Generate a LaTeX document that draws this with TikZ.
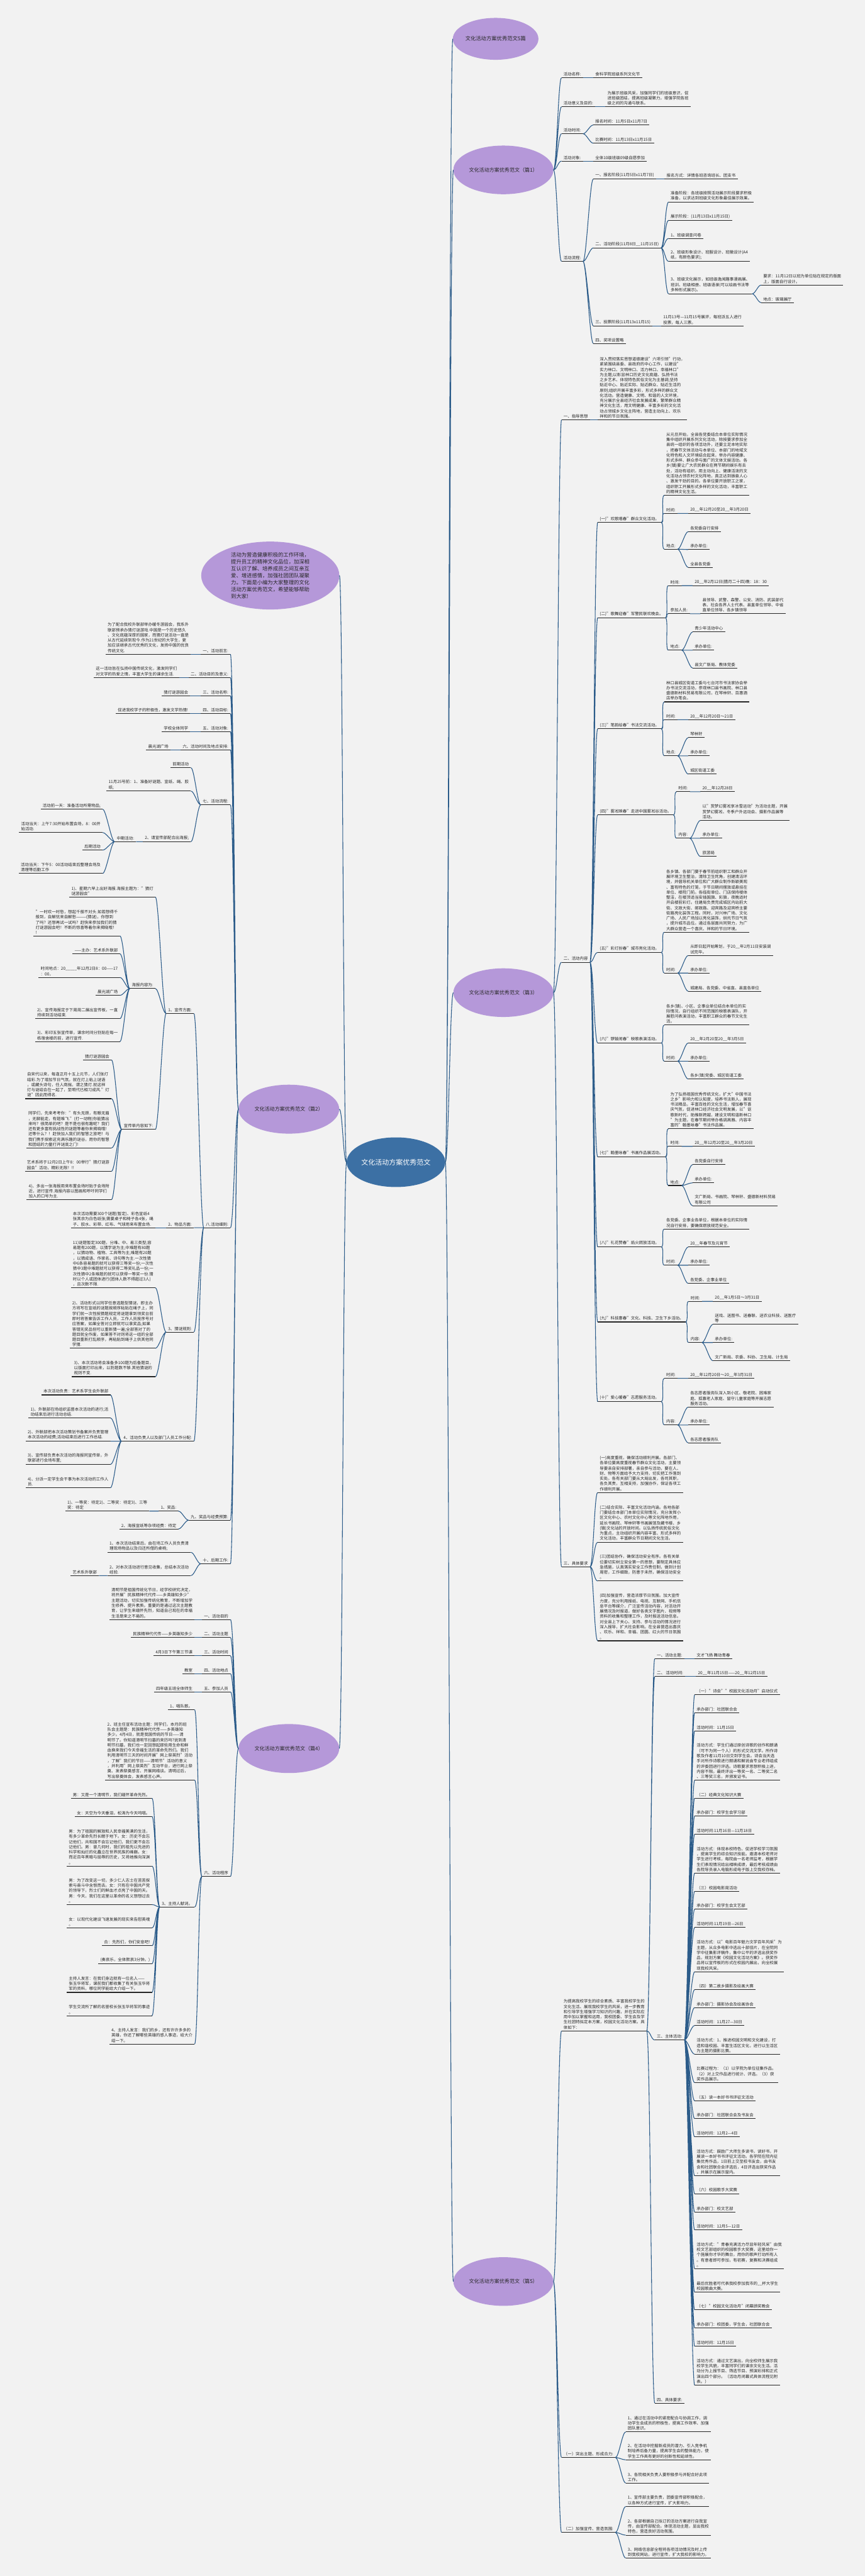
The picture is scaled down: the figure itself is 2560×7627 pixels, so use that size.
\documentclass[tikz,border=0pt]{standalone}
\usepackage{fontspec}
\setmainfont{Noto Sans CJK SC}
\usetikzlibrary{shapes.geometric}

\definecolor{bgc}{RGB}{242,242,242}
\definecolor{lav}{RGB}{181,152,217}
\definecolor{coreblue}{RGB}{60,112,164}
\definecolor{linkc}{RGB}{44,92,138}
\definecolor{inkc}{RGB}{38,38,38}

\begin{document}
\begin{tikzpicture}[
    x=1pt, y=-1pt,
    every node/.style={text=inkc},
    core/.style={ellipse, fill=coreblue, text=white, minimum width=292pt, minimum height=147pt, inner sep=0pt, font=\fontsize{20.5}{24}\selectfont},
    topic/.style={ellipse, fill=lav, minimum width=296pt, minimum height=144pt, inner sep=0pt, align=left, font=\fontsize{15}{20.5}\selectfont},
    underl/.style={draw=inkc, line width=2pt},
    item/.style={align=left, inner xsep=6pt, inner ysep=4.5pt, font=\fontsize{12}{15.4}\selectfont,
        append after command={(\tikzlastnode.south west) edge[underl] (\tikzlastnode.south east)}},
    rn/.style={item, anchor=south west},
    ln/.style={item, anchor=south east},
    link/.style={draw=linkc, line width=2pt},
    rlink/.style={link, to path={.. controls +(10,0) and +(-10,0) .. (\tikztotarget)}},
    llink/.style={link, to path={.. controls +(-10,0) and +(10,0) .. (\tikztotarget)}}
]

\fill[bgc] (0,0) rectangle (2560,7627);
\useasboundingbox (0,0) rectangle (2560,7627);

% ============ CENTRE ============
\node[core] (core) at (1172,3441) {文化活动方案优秀范文};

% ============ TOPICS ============
\node[topic, minimum width=251pt, minimum height=124pt, font=\fontsize{15.5}{20}\selectfont] (tA) at (1467,115) {文化活动方案优秀范文5篇};
\node[topic] (t1) at (1490,503) {文化活动方案优秀范文（篇1）};
\node[topic] (t3) at (1490,2939) {文化活动方案优秀范文（篇3）};
\node[topic] (t5) at (1490,6755) {文化活动方案优秀范文（篇5）};
\node[topic, minimum width=409pt, minimum height=201pt, font=\fontsize{15.5}{20.5}\selectfont] (tI) at (800,1704) {活动为营造健康积极的工作环境，\\提升员工的精神文化品位，加深相\\互认识了解、培养成员之间互亲互\\爱、增进感情，加强社团团队凝聚\\力。下面是小编为大家整理的文化\\活动方案优秀范文，希望能够帮助\\到大家!};
\node[topic, minimum width=298pt, minimum height=145pt] (t2) at (855,3284) {文化活动方案优秀范文（篇2）};
\node[topic, minimum width=298pt, minimum height=145pt] (t4) at (855,5177) {文化活动方案优秀范文（篇4）};

\draw[rlink] (core.east) to (tA.west) (core.east) to (t1.west) (core.east) to (t3.west) (core.east) to (t5.west);
\draw[llink] (core.west) to (tI.east) (core.west) to (t2.east) (core.west) to (t4.east);

% ============ PIAN 1 ============
\node[rn] (a1) at (1662,230) {活动名称:};
\node[rn] (a1x) at (1756,230) {食科学院班级系列文化节};
\node[rn] (a2) at (1662,316) {活动意义及目的:};
\node[rn] (a2x) at (1792,316) {为展示班级风采，加强同学们的班级意识，促\\进班级团结，提高班级凝聚力，增强学院各班\\级之间的沟通与联系。};
\node[rn] (a3) at (1662,396) {活动时间:};
\node[rn] (a3a) at (1756,370) {报名时间：11月5日x11月7日};
\node[rn] (a3b) at (1756,424) {比赛时间：11月13日x11月15日};
\node[rn] (a4) at (1662,477) {活动对象:};
\node[rn] (a4x) at (1756,477) {全体10级班级09级自愿参加};
\node[rn] (a5) at (1662,774) {活动流程:};
\node[rn] (a5a) at (1756,530) {一、报名阶段(11月5日x11月7日)};
\node[rn] (a5ax) at (1967,530) {报名方式：详情各班咨询班长、团支书};
\node[rn] (a5b) at (1756,734) {二、活动阶段(11月8日\_\_11月15日)};
\node[rn] (a5b1) at (1979,598) {准备阶段：各班级按照活动展示阶段要求积极\\准备，以求达到班级文化形象最佳展示效果。};
\node[rn] (a5b2) at (1979,652) {展示阶段：(11月13日x11月15日)};
\node[rn] (a5b3) at (1979,706) {1、班级调查问卷};
\node[rn] (a5b4) at (1979,774) {2、班级形象设计、班服设计、班徽设计(A4\\纸，有颜色要求);};
\node[rn] (a5b5) at (1979,870) {3、班级文化展示，如班级逸闻趣事漫画展、\\班训、班级相册、班级语录(可以绘画书法等\\多种形式展示)。};
\node[rn] (a5b5a) at (2253,844) {要求：11月12日以班为单位贴在规定的版面\\上，版面自行设计。};
\node[rn] (a5b5b) at (2253,896) {地点：玻璃展厅};
\node[rn] (a5c) at (1756,965) {三、投票阶段(11月13x11月15)};
\node[rn] (a5cx) at (1957,965) {11月13号—11月15号展评，每班派五人进行\\投票，每人三票。};
\node[rn] (a5d) at (1756,1017) {四、奖项设置略};

\draw[rlink] (t1.east) to (a1.south west) (t1.east) to (a2.south west) (t1.east) to (a3.south west) (t1.east) to (a4.south west) (t1.east) to (a5.south west);
\draw[rlink] (a1.south east) to (a1x.south west) (a2.south east) to (a2x.south west) (a4.south east) to (a4x.south west);
\draw[rlink] (a3.south east) to (a3a.south west) (a3.south east) to (a3b.south west);
\draw[rlink] (a5.south east) to (a5a.south west) (a5.south east) to (a5b.south west) (a5.south east) to (a5c.south west) (a5.south east) to (a5d.south west);
\draw[rlink] (a5a.south east) to (a5ax.south west) (a5c.south east) to (a5cx.south west);
\draw[rlink] (a5b.south east) to (a5b1.south west) (a5b.south east) to (a5b2.south west) (a5b.south east) to (a5b3.south west) (a5b.south east) to (a5b4.south west) (a5b.south east) to (a5b5.south west);
\draw[rlink] (a5b5.south east) to (a5b5a.south west) (a5b5.south east) to (a5b5b.south west);

% ============ PIAN 3 ============
\node[rn] (c1) at (1662,1243) {一、指导思想};
\node[rn] (c1x) at (1769,1243) {深入贯彻落实思想道德建设"六项引领"行动，\\紧紧围绕县委、县政府的中心工作，以建设"\\实力林口、文明林口、活力林口、幸福林口"\\为主题;以彰显林口历史文化底蕴、弘扬书法\\之乡艺术、体现特色民俗文化为主基调;坚持\\贴近中心、贴近实际、贴近群众、贴近生活的\\原则;组织开展丰富多彩，形式多样的群众文\\化活动。营造健康、文明、和谐的人文环境，\\充分展示全县经济社会发展成果，繁荣群众精\\神文化生活，用文明健康、丰富多彩的文化活\\动占领城乡文化主阵地，营造主动向上、欢乐\\祥和的节日氛围。};
\node[rn] (c2) at (1662,2849) {二、活动内容};

\node[rn] (c2a) at (1769,1547) {(一)"欢歌唱春"群众文化活动。};
\node[rn] (c2a1) at (1966,1466) {从元旦开始，全县各党委结合本单位实际情况\\集中组织开展系列文化活动，除按要求参加全\\县统一组织的各项活动外，还要立足本地实际\\，把春节文体活动与本单位、本部门的地域文\\化特色和人文环境结合起来，举办内容健康、\\形式多样、群众参与面广的文体文娱活动。各\\乡(镇)要让广大农民群众在两节期间娱乐有去\\处，活动有组织。用主动向上、健康活泼的文\\化活动占领农村文化阵地，真正达到振奋人心\\、激发干劲的目的。各单位要开放职工之家，\\组织职工开展形式多样的文化活动，丰富职工\\的精神文化生活。};
\node[rn] (c2a2) at (1966,1520) {时间:};
\node[rn] (c2a2x) at (2037,1520) {20\_\_年12月20至20\_\_年3月20日};
\node[rn] (c2a3) at (1966,1626) {地点:};
\node[rn] (c2a3a) at (2037,1574) {各党委自行安排};
\node[rn] (c2a3b) at (2037,1627) {承办单位:};
\node[rn] (c2a3c) at (2037,1680) {全县各党委};

\node[rn] (c2b) at (1769,1829) {(二)"歌舞迎春"军警民联欢晚会。};
\node[rn] (c2b1) at (1978,1734) {时间:};
\node[rn] (c2b1x) at (2050,1734) {20\_\_年2月12日(腊月二十四)晚：18：30};
\node[rn] (c2b2) at (1978,1817) {参加人员:};
\node[rn] (c2b2x) at (2073,1817) {县领导、武警、森警、公安、消防、武装部代\\表、社会各界人士代表、县直单位领导、中省\\直单位领导、各乡镇领导};
\node[rn] (c2b3) at (1978,1925) {地点:};
\node[rn] (c2b3a) at (2050,1871) {青少年活动中心};
\node[rn] (c2b3b) at (2050,1925) {承办单位:};
\node[rn] (c2b3c) at (2050,1978) {县文广新局、教体党委};

\node[rn] (c2c) at (1769,2158) {(三)"笔韵绘春"书法交流活动。};
\node[rn] (c2c1) at (1966,2078) {林口县城区街道工委与七台河市书法家协会举\\办书法交流活动，参观林口县书画院、林口县\\盛德新材料贸易有限公司，在琴林轩、百惠酒\\店举办笔会。};
\node[rn] (c2c2) at (1966,2131) {时间:};
\node[rn] (c2c2x) at (2037,2131) {20\_\_年12月20日～21日};
\node[rn] (c2c3) at (1966,2238) {地点:};
\node[rn] (c2c3a) at (2037,2184) {琴林轩};
\node[rn] (c2c3b) at (2037,2238) {承办单位:};
\node[rn] (c2c3c) at (2037,2292) {城区街道工委};

\node[rn] (c2d) at (1769,2413) {(四)"雾凇映春"走进中国雾凇谷活动。};
\node[rn] (c2d1) at (2002,2344) {时间:};
\node[rn] (c2d1x) at (2073,2344) {20\_\_年12月28日};
\node[rn] (c2d2) at (2002,2482) {内容:};
\node[rn] (c2d2a) at (2073,2429) {以"赏梦幻雾凇享冰雪运动"为活动主题，开展\\赏梦幻雾凇、冬季户外运动会、摄影作品展等\\活动。};
\node[rn] (c2d2b) at (2073,2482) {承办单位:};
\node[rn] (c2d2c) at (2073,2536) {旅游局};

\node[rn] (c2e) at (1769,2820) {(五)"彩灯扮春"城市亮化活动。};
\node[rn] (c2e1) at (1966,2760) {各乡镇、各部门要于春节前组织职工和群众开\\展环境卫生整治，清除卫生死角，创建清洁环\\境，并倡导机关单位和广大群众制作新颖美观\\、富有特色的灯笼，于节日期间摆放或悬挂在\\单位、楼院门前。各临街单位、门店保持楼体\\整洁，在楼顶适当安插国旗、彩旗，夜晚适时\\开启楼前彩灯。住建局负责完成城区内站前大\\街、文政大街、邮政路、迎宾路及迎宾桥主要\\街路亮化装饰工程。同时，对兴林广场、文化\\广场、人民广场加以亮化装饰，烘托节日气氛\\，提升城市品位。通过各层面共同努力，为广\\大群众营造一个喜庆、祥和的节日环境。};
\node[rn] (c2e2) at (1966,2881) {时间:};
\node[rn] (c2e2a) at (2037,2829) {从即日起开始筹划，于20\_\_年2月11日安装调\\试完毕。};
\node[rn] (c2e2b) at (2037,2881) {承办单位:};
\node[rn] (c2e2c) at (2037,2935) {城建局、各党委、中省直、县直各单位};

\node[rn] (c2f) at (1769,3088) {(六)"锣鼓闹春"秧歌表演活动。};
\node[rn] (c2f1) at (1966,3035) {各乡(镇)、小区、企事业单位结合本单位的实\\际情况，自行组织不同范围的秧歌表演队，开\\展慰问表演活动，丰富职工群众的春节文化生\\活。};
\node[rn] (c2f2) at (1966,3142) {时间:};
\node[rn] (c2f2a) at (2037,3088) {20\_\_年2月20至20\_\_年3月5日};
\node[rn] (c2f2b) at (2037,3142) {承办单位:};
\node[rn] (c2f2c) at (2037,3195) {各乡(镇)党委、城区街道工委};

\node[rn] (c2g) at (1769,3425) {(七)"翰墨咏春"书画作品展活动。};
\node[rn] (c2g1) at (1978,3342) {为了弘扬祖国优秀传统文化，扩大"中国书法\\之乡"影响力和认知度，培养书法新人，展现\\书法精品，丰富百姓的文化生活，增加春节喜\\庆气氛，促进林口经济社会文明发展，以"讴\\歌新时代，助推新跨越，建设文明和谐新林口\\"为主题，在春节期间举办格调高雅、内容丰\\富的"翰墨咏春"书法作品展。};
\node[rn] (c2g2) at (1978,3394) {时间:};
\node[rn] (c2g2x) at (2050,3394) {20\_\_年12月20至20\_\_年3月20日};
\node[rn] (c2g3) at (1978,3510) {地点:};
\node[rn] (c2g3a) at (2050,3448) {各党委自行安排};
\node[rn] (c2g3b) at (2050,3502) {承办单位:};
\node[rn] (c2g3c) at (2050,3570) {文广新局、书画院、琴林轩、盛德新材料贸易\\有限公司};

\node[rn] (c2h) at (1769,3692) {(八)"礼花赞春"焰火燃放活动。};
\node[rn] (c2h1) at (1966,3639) {各党委、企事业各单位，根据本单位的实际情\\况自行安排，要确保燃放规范安全。};
\node[rn] (c2h2) at (1966,3746) {时间:};
\node[rn] (c2h2a) at (2037,3692) {20\_\_年春节及元宵节};
\node[rn] (c2h2b) at (2037,3746) {承办单位:};
\node[rn] (c2h2c) at (2037,3800) {各党委、企事业单位};

\node[rn] (c2i) at (1769,3914) {(九)"科技惠春"文化、科技、卫生下乡活动。};
\node[rn] (c2i1) at (2038,3853) {时间:};
\node[rn] (c2i1x) at (2110,3853) {20\_\_年1月5日～3月31日};
\node[rn] (c2i2) at (2038,3975) {内容:};
\node[rn] (c2i2a) at (2110,3921) {送戏、送图书、送春联、送农业科技、送医疗\\等};
\node[rn] (c2i2b) at (2110,3975) {承办单位:};
\node[rn] (c2i2c) at (2110,4029) {文广新局、农委、科协、卫生局、计生局};

\node[rn] (c2j) at (1769,4150) {(十)"爱心暖春"志愿服务活动。};
\node[rn] (c2j1) at (1966,4081) {时间:};
\node[rn] (c2j1x) at (2037,4081) {20\_\_年12月20日～20\_\_年3月31日};
\node[rn] (c2j2) at (1966,4219) {内容:};
\node[rn] (c2j2a) at (2037,4166) {各志愿者服务队深入到小区、敬老院、困难家\\庭、孤寡老人家庭、留守儿童家庭等开展志愿\\服务活动。};
\node[rn] (c2j2b) at (2037,4219) {承办单位:};
\node[rn] (c2j2c) at (2037,4272) {各志愿者服务队};

\node[rn] (c3) at (1662,4639) {三、具体要求};
\node[rn] (c3a) at (1769,4419) {(一)高度重视，确保活动顺利开展。各部门、\\各单位要高度重视春节群众文化活动，主要领\\导要亲自安排部署，亲自参与活动，要在人、\\财、物等方面给予大力支持，切实把工作落到\\实处。各有关部门要从大局出发，各司其职，\\各负其责，互相支持，加强协作，保证各项工\\作顺利开展。};
\node[rn] (c3b) at (1769,4566) {(二)结合实际、丰富文化活动内涵。各地各部\\门要结合本部门本单位实际情况，充分发挥小\\区文化中心、农村文化中心等文化阵地作用，\\延长书画院、琴林轩等书画展馆及藏书楼、乡\\(镇)文化站的开放时间。以弘扬传统民俗文化\\为重点，主动组织开展内容丰富、形式多样的\\文化活动，丰富群众节日期间文化生活。};
\node[rn] (c3c) at (1769,4681) {(三)团结协作，确保活动安全有序。各有关单\\位要切实树立安全第一的思想，要制定具体应\\急措施，认真落实安全工作责任制，做到计划\\周密，工作细致，防患于未然，确保活动安全\\。};
\node[rn] (c3d) at (1769,4858) {(四)加强宣传，营造浓厚节日氛围。加大宣传\\力度，充分利用报纸、电视、互联网、手机信\\息平台等媒介，广泛宣传活动内容，对活动开\\展情况及时报道，做好各类文字图片、视频等\\资料的收集和整理工作，及时报送活动信息。\\对全县上下关心、支持、参与活动的情况进行\\深入报导，扩大社会影响。在全县营造出喜庆\\、欢乐、祥和、幸福、团圆、红火的节日氛围\\。};

\draw[rlink] (t3.east) to (c1.south west) (t3.east) to (c2.south west) (t3.east) to (c3.south west);
\draw[rlink] (c1.south east) to (c1x.south west);
\draw[rlink] (c2.south east) to (c2a.south west) (c2.south east) to (c2b.south west) (c2.south east) to (c2c.south west) (c2.south east) to (c2d.south west) (c2.south east) to (c2e.south west)
             (c2.south east) to (c2f.south west) (c2.south east) to (c2g.south west) (c2.south east) to (c2h.south west) (c2.south east) to (c2i.south west) (c2.south east) to (c2j.south west);
\draw[rlink] (c2a.south east) to (c2a1.south west) (c2a.south east) to (c2a2.south west) (c2a.south east) to (c2a3.south west) (c2a2.south east) to (c2a2x.south west)
             (c2a3.south east) to (c2a3a.south west) (c2a3.south east) to (c2a3b.south west) (c2a3.south east) to (c2a3c.south west);
\draw[rlink] (c2b.south east) to (c2b1.south west) (c2b.south east) to (c2b2.south west) (c2b.south east) to (c2b3.south west) (c2b1.south east) to (c2b1x.south west) (c2b2.south east) to (c2b2x.south west)
             (c2b3.south east) to (c2b3a.south west) (c2b3.south east) to (c2b3b.south west) (c2b3.south east) to (c2b3c.south west);
\draw[rlink] (c2c.south east) to (c2c1.south west) (c2c.south east) to (c2c2.south west) (c2c.south east) to (c2c3.south west) (c2c2.south east) to (c2c2x.south west)
             (c2c3.south east) to (c2c3a.south west) (c2c3.south east) to (c2c3b.south west) (c2c3.south east) to (c2c3c.south west);
\draw[rlink] (c2d.south east) to (c2d1.south west) (c2d.south east) to (c2d2.south west) (c2d1.south east) to (c2d1x.south west)
             (c2d2.south east) to (c2d2a.south west) (c2d2.south east) to (c2d2b.south west) (c2d2.south east) to (c2d2c.south west);
\draw[rlink] (c2e.south east) to (c2e1.south west) (c2e.south east) to (c2e2.south west)
             (c2e2.south east) to (c2e2a.south west) (c2e2.south east) to (c2e2b.south west) (c2e2.south east) to (c2e2c.south west);
\draw[rlink] (c2f.south east) to (c2f1.south west) (c2f.south east) to (c2f2.south west)
             (c2f2.south east) to (c2f2a.south west) (c2f2.south east) to (c2f2b.south west) (c2f2.south east) to (c2f2c.south west);
\draw[rlink] (c2g.south east) to (c2g1.south west) (c2g.south east) to (c2g2.south west) (c2g.south east) to (c2g3.south west) (c2g2.south east) to (c2g2x.south west)
             (c2g3.south east) to (c2g3a.south west) (c2g3.south east) to (c2g3b.south west) (c2g3.south east) to (c2g3c.south west);
\draw[rlink] (c2h.south east) to (c2h1.south west) (c2h.south east) to (c2h2.south west)
             (c2h2.south east) to (c2h2a.south west) (c2h2.south east) to (c2h2b.south west) (c2h2.south east) to (c2h2c.south west);
\draw[rlink] (c2i.south east) to (c2i1.south west) (c2i.south east) to (c2i2.south west) (c2i1.south east) to (c2i1x.south west)
             (c2i2.south east) to (c2i2a.south west) (c2i2.south east) to (c2i2b.south west) (c2i2.south east) to (c2i2c.south west);
\draw[rlink] (c2j.south east) to (c2j1.south west) (c2j.south east) to (c2j2.south west) (c2j1.south east) to (c2j1x.south west)
             (c2j2.south east) to (c2j2a.south west) (c2j2.south east) to (c2j2b.south west) (c2j2.south east) to (c2j2c.south west);
\draw[rlink] (c3.south east) to (c3a.south west) (c3.south east) to (c3b.south west) (c3.south east) to (c3c.south west) (c3.south east) to (c3d.south west);

% ============ PIAN 5 ============
\node[rn] (e0) at (1662,6013) {为提高我校学生的综合素质、丰富我校学生的\\文化生活、展现我校学生的风采，进一步教育\\和引导学生增强学习知识的兴趣，并在实际应\\用中加以掌握和运用，我校团委、学生会及学\\生社团特拟定本方案，校园文化活动方案。具\\体如下：};
\node[rn] (e1) at (1938,4911) {一、活动主题:};
\node[rn] (e1x) at (2056,4911) {文才飞扬 舞动青春};
\node[rn] (e2) at (1938,4964) {二、 活动时间:};
\node[rn] (e2x) at (2060,4964) {20\_\_年11月15日——20\_\_年12月15日};
\node[rn] (e3) at (1938,6040) {三、主体活动:};
\node[rn] (e4) at (1938,7115) {四、具体要求:};

\node[rn] (m1) at (2056,5018) {（一）"诗会""校园文化活动月"启动仪式};
\node[rn] (m2) at (2056,5071) {承办部门：社团联合会};
\node[rn] (m3) at (2056,5125) {活动时间：11月15日};
\node[rn] (m4) at (2056,5271) {活动方式：学生们通过原创诗歌的创作和朗诵\\（可不为同一个人）的形式交流文学。所作诗\\歌及作者11月10日交到学生会。诗会当天选\\手对所作诗歌进行朗诵和解说由专业老师组成\\的评委团进行评选。诗歌要求思想积极上进，\\内容不限。最终评出一等奖一名、二等奖二名\\、三等奖三名，并颁发证书。};
\node[rn] (m5) at (2056,5324) {（二）经典文化知识大赛};
\node[rn] (m6) at (2056,5377) {承办部门：校学生会学习部};
\node[rn] (m7) at (2056,5431) {活动时间:11月16日—11月18日};
\node[rn] (m8) at (2056,5546) {活动方式：体现本校特色、促进学校学习氛围\\，提高学生的综合知识技能。邀请本校老师对\\学生进行考核，每院由一名老师监考，根据学\\生们表现情况给出相映成绩，最后考核成绩由\\各院导员录入电脑形成电子版上交我校存档。};
\node[rn] (m9) at (2056,5600) {（三）校园电影周活动};
\node[rn] (m10) at (2056,5653) {承办部门：校学生会文艺部};
\node[rn] (m11) at (2056,5707) {活动时间:11月19日—26日};
\node[rn] (m12) at (2056,5838) {活动方式：以"电影百年魅力文学百年风采"为\\主题，从众多电影中选出十部佳片，在全院同\\学中征集影评稿件，集中公平的评选出获奖作\\品，规划方案《校园文化活动方案》。获奖作\\品将以宣传板的形式在校园内展出，向全校展\\现我校风采。};
\node[rn] (m13) at (2056,5891) {（四）第二故乡摄影及绘画大赛};
\node[rn] (m14) at (2056,5944) {承办部门：摄影协会及绘画协会};
\node[rn] (m15) at (2056,5997) {活动时间：11月27—30日};
\node[rn] (m16) at (2056,6082) {活动方式：1、推进校园文明和文化建设，打\\造和谐校园、丰富生活区文化，进行以生活区\\为主题的摄影比赛。};
\node[rn] (m17) at (2056,6166) {比赛过程为：（1）以学院为单位征集作品。\\（2）对上交作品进行统计、评选。（3）获\\奖作品展示。};
\node[rn] (m18) at (2056,6220) {（五）读一本好书书评征文活动};
\node[rn] (m19) at (2056,6273) {承办部门：社团联合会及书友会};
\node[rn] (m20) at (2056,6327) {活动时间：12月2—4日};
\node[rn] (m21) at (2056,6442) {活动方式：鼓励广大师生多读书，读好书，开\\展读一本好书书评征文活动。各学院在院内征\\集优秀作品，1日前上交至校书友会，由书友\\会和社团联合会评选后，4日评选出获奖作品\\，并展示在展示窗内。};
\node[rn] (m22) at (2056,6495) {（六）校园歌手大奖赛};
\node[rn] (m23) at (2056,6549) {承办部门：校文艺部};
\node[rn] (m24) at (2056,6602) {活动时间：12月5—12日};
\node[rn] (m25) at (2056,6717) {活动方式："青春充满活力尽显年轻风采"由我\\校文艺部组织的校园歌手大奖赛，这里给你一\\个施展你才华的舞台，用你的歌声打动所有人\\。有意者即可参加，有初赛，复赛和决赛组成\\。};
\node[rn] (m26) at (2056,6787) {最后优胜者可代表我校参加我市的\_\_杯大学生\\校园歌曲大赛。};
\node[rn] (m27) at (2056,6839) {（七）"校园文化活动月"闭幕颁奖晚会};
\node[rn] (m28) at (2056,6892) {承办部门：校团委，学生会，社团联合会};
\node[rn] (m29) at (2056,6947) {活动时间：12月15日};
\node[rn] (m30) at (2056,7062) {活动方式：通过文艺演出，向全校师生展示我\\校学生风貌，丰富同学们的课余文化生活。活\\动分为上报节目、筛选节目、预演彩排和正式\\演出四个部分。（活动月闭幕式具体流程见附\\表。）};

\node[rn] (f1) at (1662,7276) {（一）突出主题、形成合力:};
\node[rn] (f1a) at (1852,7200) {1、通过在活动中的紧密配合与协调工作，调\\动学生会成员的积极性，提高工作效率、加强\\团队意识。};
\node[rn] (f1b) at (1852,7283) {2、在活动中挖掘新成员的潜力、引入竞争机\\制培养后备力量，提高学生会的整体能力，使\\学生工作具有更好的创新性和延续性。};
\node[rn] (f1c) at (1852,7352) {3、各院相关负责人要积极参与并配合好此项\\工作。};
\node[rn] (f2) at (1662,7498) {（二）加强宣传、营造氛围:};
\node[rn] (f2a) at (1852,7421) {1、宣传部主要负责，团委宣传部积极配合，\\以各种方式进行宣传，扩大影响力。};
\node[rn] (f2b) at (1852,7506) {2、各部根据自己拟订的活动方案进行自我宣\\传，由宣传部配合。体现活动主题，显出我校\\特色，营造良好活动氛围。};
\node[rn] (f2c) at (1852,7574) {3、网络信息部全程将各项活动情况及时上传\\到我校网站，进行宣传，扩大我校的影响力。};

\draw[rlink] (t5.east) to (e0.south west) (t5.east) to (f1.south west) (t5.east) to (f2.south west);
\draw[rlink] (e0.south east) to (e1.south west) (e0.south east) to (e2.south west) (e0.south east) to (e3.south west) (e0.south east) to (e4.south west);
\draw[rlink] (e1.south east) to (e1x.south west) (e2.south east) to (e2x.south west);
\draw[rlink] (e3.south east) to (m1.south west) (e3.south east) to (m2.south west) (e3.south east) to (m3.south west) (e3.south east) to (m4.south west) (e3.south east) to (m5.south west)
             (e3.south east) to (m6.south west) (e3.south east) to (m7.south west) (e3.south east) to (m8.south west) (e3.south east) to (m9.south west) (e3.south east) to (m10.south west)
             (e3.south east) to (m11.south west) (e3.south east) to (m12.south west) (e3.south east) to (m13.south west) (e3.south east) to (m14.south west) (e3.south east) to (m15.south west)
             (e3.south east) to (m16.south west) (e3.south east) to (m17.south west) (e3.south east) to (m18.south west) (e3.south east) to (m19.south west) (e3.south east) to (m20.south west)
             (e3.south east) to (m21.south west) (e3.south east) to (m22.south west) (e3.south east) to (m23.south west) (e3.south east) to (m24.south west) (e3.south east) to (m25.south west)
             (e3.south east) to (m26.south west) (e3.south east) to (m27.south west) (e3.south east) to (m28.south west) (e3.south east) to (m29.south west) (e3.south east) to (m30.south west);
\draw[rlink] (f1.south east) to (f1a.south west) (f1.south east) to (f1b.south west) (f1.south east) to (f1c.south west);
\draw[rlink] (f2.south east) to (f2a.south west) (f2.south east) to (f2b.south west) (f2.south east) to (f2c.south west);

% ============ PIAN 2 (LEFT) ============
\node[ln] (b1) at (682,1937) {一、活动前言:};
\node[ln] (b1x) at (565,1937) {为了配合我校外联部举办暖冬游园会，我系外\\联部预承办猜灯谜游戏.中国是一个历史悠久\\、文化底蕴深厚的国家，而猜灯谜活动一直是\\从古代延续到现今.作为21世纪的大学生，更\\加应该继承古代优秀的文化，发扬中国的优良\\传统文化.};
\node[ln] (b2) at (682,2006) {二、活动目的及意义:};
\node[ln] (b2x) at (530,2006) {这一活动旨在弘扬中国传统文化，激发同学们\\对文学的热爱之情，丰富大学生的课余生活.};
\node[ln] (b3) at (682,2060) {三、活动名称:};
\node[ln] (b3x) at (563,2060) {猜灯谜游园会};
\node[ln] (b4) at (682,2113) {四、活动目标:};
\node[ln] (b4x) at (563,2113) {促进我校学子的积极性，激发文学热情!};
\node[ln] (b5) at (682,2166) {五、活动对象:};
\node[ln] (b5x) at (563,2166) {学校全体同学};
\node[ln] (b6) at (682,2220) {六、活动时间及地点安排:};
\node[ln] (b6x) at (505,2220) {晨光湖广场};
\node[ln] (b7) at (682,2383) {七、活动流程:};
\node[ln] (b7a) at (565,2273) {前期活动};
\node[ln] (b7b) at (565,2342) {11月25号前：1、准备好谜题、宣纸、绳、胶\\纸;};
\node[ln] (b7c) at (565,2492) {2、请宣传部配合出海报;};
\node[ln] (b7c1) at (403,2492) {中期活动:};
\node[ln] (b7c1a) at (304,2396) {活动前一天：准备活动所需物品;};
\node[ln] (b7c1b) at (304,2465) {活动当天：上午7:30开始布置会场，8：00开\\始活动.};
\node[ln] (b7c1c) at (304,2517) {后期活动};
\node[ln] (b7c1d) at (304,2586) {活动当天：下午5：00活动结束后整理会场及\\清理等后勤工作};

\node[ln] (b8) at (682,3635) {八.活动细则:};
\node[ln] (b8a) at (574,3001) {1、宣传方面:};
\node[ln] (b8a1) at (460,2656) {1)、星期六早上出好海报.海报主题为："猜灯\\谜游园会"};
\node[ln] (b8a2) at (460,2927) {海报内容为:};
\node[ln] (b8a2a) at (355,2771) {"一时欢一时愁，想起千般不对头.如若想得千\\般到，自解忧来自解愁———(猜谜)，你想到\\了吗？还想再试一试吗？赶快来参加我们的猜\\灯谜游园会吧！不断的惊喜等着你来揭晓哦！\\!};
\node[ln] (b8a2b) at (355,2824) {——主办：艺术系外联部};
\node[ln] (b8a2c) at (355,2894) {时间地点：20\_\_\_\_\_年12月2日8：00——17\\：00，};
\node[ln] (b8a2d) at (355,2947) {晨光湖广场};
\node[ln] (b8a2e) at (355,3016) {2)、宣传海报定于下周周二展出宣传板，一直\\持续到活动结束.};
\node[ln] (b8a2f) at (355,3084) {3)、彩印五张宣传单，课余时间分别贴在每一\\栋宿舍楼的前，进行宣传.};
\node[ln] (b8a3) at (460,3344) {宣传单内容如下:};
\node[ln] (b8a3a) at (330,3138) {猜灯谜游园会};
\node[ln] (b8a3b) at (330,3253) {自宋代以来，每逢正月十五上元节，人们张灯\\结彩.为了增加节日气氛，就在灯上粘上谜语\\，或藏头诗句，任人商揣，谓之猜灯.就这样\\灯与谜结合在一起了，至明代已相习成风."灯\\谜"因此而得名.};
\node[ln] (b8a3c) at (330,3399) {同学们，先来考考你："有头无颈，有眼无眉\\，无脚能走，有翅难飞."(打一动物)你能猜出\\来吗？很简单的吧？是不是也很有趣呢？我们\\还有更多富有挑战性的谜题等着你来揭晓哦!\\还等什么？！赶快加入我们的智慧之旅吧！与\\我们携手探索这充满乐趣的谜谷，用你的智慧\\和团结的力量打开谜底之门!};
\node[ln] (b8a3d) at (330,3468) {艺术系将于12月2日上午8：00举行"猜灯谜游\\园会"活动，精彩无限！!!};
\node[ln] (b8a3e) at (330,3552) {4)、多出一张海报用来布置会场时贴于会场附\\近，进行宣传.海报内容以图画和呼吁同学们\\加入的口号为主.};
\node[ln] (b8b) at (574,3635) {2、物品方面:};
\node[ln] (b8bx) at (460,3635) {本次活动需要300个谜题(暂定)、彩色宣纸4\\张其余为白色纸张;需要桌子和椅子各4张，绳\\子、胶水、彩带、红布、气球用来布置会场.};
\node[ln] (b8c) at (574,3944) {3、猜谜规则:};
\node[ln] (b8c1) at (460,3813) {11)谜题暂定300题，分难、中、易三类型;容\\易题有200题，以猜字谜为主;中难题有80题\\，以猜动物、植物、工具等为主;难题有20题\\，以猜成语、作家名、诗句等为主.一次性猜\\中6条容易题的就可以获得三等奖一份;一次性\\猜中3题中难题就可以获得二等奖礼品一份;一\\次性猜中2条难题的就可以获得一等奖一份.猜\\时以个人或团体进行(团体人数不得超过3人)\\，且次数不限.};
\node[ln] (b8c2) at (460,3992) {2)、活动形式以同学任意选题型猜谜，即主办\\方将写在宣纸的谜题按顺序粘贴在绳子上，同\\学们就一次性按猜题规定将谜题拿到领奖台前\\即时将答案告诉工作人员，工作人员按序号对\\应答案，如果全答对立即就可以拿奖品;如果\\答错无奖品但可以重新猜一遍;全部答对了的\\题目就全作废，如果答不对则将这一组的全部\\题目重新打乱顺序，再粘贴到绳子上供其他同\\学猜.};
\node[ln] (b8c3) at (460,4076) {3)、本次活动将会准备多100题为后备题目，\\以版面打印出来，以防题数不够.其他猜谜的\\规则不变.};
\node[ln] (b8d) at (574,4267) {4、活动负责人以及部门人员工作分配:};
\node[ln] (b8d1) at (327,4130) {本次活动负责：艺术系学生会外联部};
\node[ln] (b8d2) at (327,4198) {1)、外联部在场组织监督本次活动的进行;活\\动结束后进行活动总结.};
\node[ln] (b8d3) at (327,4267) {2)、外联部把本次活动策划书备案并负责管理\\本次活动的经费;活动结束后进行工作总结.};
\node[ln] (b8d4) at (327,4336) {3)、宣传部负责本次活动的海报同宣传单，外\\联部进行会场布置;};
\node[ln] (b8d5) at (327,4405) {4)、分派一定学生会干事为本次活动的工作人\\员.};

\node[ln] (b9) at (682,4501) {九、奖品与经费预算:};
\node[ln] (b9a) at (528,4474) {1、奖品:};
\node[ln] (b9ax) at (442,4474) {1)、一等奖：待定2)、二等奖：待定3)、三等\\奖：待定};
\node[ln] (b9b) at (528,4527) {2、海报宣纸等杂项经费：待定};
\node[ln] (b10) at (682,4630) {十、后期工作:};
\node[ln] (b10a) at (565,4596) {1、本次活动结束后，由在场工作人员负责清\\理现场物品以及归还所借的桌椅;};
\node[ln] (b10b) at (565,4665) {2、对本次活动进行意见收集，总结本次活动\\经验.};
\node[ln] (b10bx) at (293,4665) {艺术系外联部};

\draw[llink] (t2.west) to (b1.south east) (t2.west) to (b2.south east) (t2.west) to (b3.south east) (t2.west) to (b4.south east) (t2.west) to (b5.south east)
             (t2.west) to (b6.south east) (t2.west) to (b7.south east) (t2.west) to (b8.south east) (t2.west) to (b9.south east) (t2.west) to (b10.south east);
\draw[llink] (b1.south west) to (b1x.south east) (b2.south west) to (b2x.south east) (b3.south west) to (b3x.south east) (b4.south west) to (b4x.south east)
             (b5.south west) to (b5x.south east) (b6.south west) to (b6x.south east);
\draw[llink] (b7.south west) to (b7a.south east) (b7.south west) to (b7b.south east) (b7.south west) to (b7c.south east) (b7c.south west) to (b7c1.south east);
\draw[llink] (b7c1.south west) to (b7c1a.south east) (b7c1.south west) to (b7c1b.south east) (b7c1.south west) to (b7c1c.south east) (b7c1.south west) to (b7c1d.south east);
\draw[llink] (b8.south west) to (b8a.south east) (b8.south west) to (b8b.south east) (b8.south west) to (b8c.south east) (b8.south west) to (b8d.south east);
\draw[llink] (b8a.south west) to (b8a1.south east) (b8a.south west) to (b8a2.south east) (b8a.south west) to (b8a3.south east);
\draw[llink] (b8a2.south west) to (b8a2a.south east) (b8a2.south west) to (b8a2b.south east) (b8a2.south west) to (b8a2c.south east) (b8a2.south west) to (b8a2d.south east)
             (b8a2.south west) to (b8a2e.south east) (b8a2.south west) to (b8a2f.south east);
\draw[llink] (b8a3.south west) to (b8a3a.south east) (b8a3.south west) to (b8a3b.south east) (b8a3.south west) to (b8a3c.south east) (b8a3.south west) to (b8a3d.south east)
             (b8a3.south west) to (b8a3e.south east);
\draw[llink] (b8b.south west) to (b8bx.south east);
\draw[llink] (b8c.south west) to (b8c1.south east) (b8c.south west) to (b8c2.south east) (b8c.south west) to (b8c3.south east);
\draw[llink] (b8d.south west) to (b8d1.south east) (b8d.south west) to (b8d2.south east) (b8d.south west) to (b8d3.south east) (b8d.south west) to (b8d4.south east)
             (b8d.south west) to (b8d5.south east);
\draw[llink] (b9.south west) to (b9a.south east) (b9.south west) to (b9b.south east) (b9a.south west) to (b9ax.south east);
\draw[llink] (b10.south west) to (b10a.south east) (b10.south west) to (b10b.south east) (b10b.south west) to (b10bx.south east);

% ============ PIAN 4 (LEFT) ============
\node[ln] (d1) at (682,4795) {一、活动目的};
\node[ln] (d1x) at (576,4795) {清明节是祖国传统化节日，经学校研究决定，\\将开展"民族精神代代传——乡英雄知多少"\\主题活动，切实加强传统化教育，不断增加学\\生修养、提升素质。重要的是通过这次主题教\\育，让学生来缅怀先烈，知道自己现在的幸福\\生活是来之不易的。};
\node[ln] (d2) at (682,4848) {二、活动主题};
\node[ln] (d2x) at (576,4848) {民族精神代代传——乡英雄知多少};
\node[ln] (d3) at (682,4902) {三、活动时间};
\node[ln] (d3x) at (576,4902) {4月3日下午第三节课};
\node[ln] (d4) at (682,4955) {四、活动地点};
\node[ln] (d4x) at (576,4955) {教室};
\node[ln] (d5) at (682,5009) {五、参加人员};
\node[ln] (d5x) at (576,5009) {四年级五班全体师生};
\node[ln] (d6) at (682,5556) {六、活动程序};
\node[ln] (d6a) at (576,5062) {1、唱队歌。};
\node[ln] (d6b) at (576,5270) {2、班主任宣布活动主题：同学们，本月的班\\队会主题是：民族精神代代传——乡英雄知\\多少。4月4日，就是我国传统的节日——清\\明节了。你知道清明节扫墓的来历吗?说到清\\明节扫墓，我们也一定回想起那些用生命和鲜\\血换来我们今天幸福生活的革命先烈们。我们\\利用清明节三天的时间开展"网上祭英烈"活动\\，了解"我们的节日——清明节"活动的意义\\，并利用"网上祭英烈"互动平台，进行网上祭\\奠、发表祭奠感言、开展网络谈。清明过后，\\写出祭奠体会，发表感言心声。};
\node[ln] (d6c) at (576,5646) {3、主持人献词。};
\node[ln] (d6c1) at (450,5324) {男：又是一个清明节，我们缅怀革命先烈。};
\node[ln] (d6c2) at (450,5378) {女：天空为今天垂泪，松涛为今天呜咽。};
\node[ln] (d6c3) at (450,5525) {男：为了祖国的解放和人民幸福美满的生活，\\有多少革命先烈长眠于地下。女：历史不会忘\\记他们，共和国不会忘记他们，我们更不会忘\\记他们。男：曾几何时，我们的祖先以先进的\\科学和灿烂的化矗立在世界民族的峰巅。女：\\而近百年黑暗与屈辱的历史，又将她推向深渊\\。};
\node[ln] (d6c4) at (450,5639) {男：为了改变这一切，多少仁人志士在苦苦探\\索与奋斗中含恨而去。女：只有在中国共产党\\的领导下，烈士们的鲜血才点亮了中国的天。\\男：今天，我们在这里以革命的名义想想过去\\。};
\node[ln] (d6c5) at (450,5708) {女：以现代化建设飞速发展的现实来告慰英魂\\。};
\node[ln] (d6c6) at (450,5761) {合：先烈们，你们安息吧!};
\node[ln] (d6c7) at (450,5814) {(奏哀乐，全体默哀3分钟。)};
\node[ln] (d6c8) at (450,5899) {主持人发言：在我们身边就有一位名人——\\张玉华将军，课前我们都收集了有关张玉华将\\军的资料，哪位同学能给大介绍一下。};
\node[ln] (d6c9) at (450,5968) {学生交流所了解的名誉校长张玉华将军的事迹\\。};
\node[ln] (d6d) at (576,6052) {4、主持人发言：我们的乡，还有许许多多的\\英雄，你还了解哪些英雄的感人事迹，给大介\\绍一下。};

\draw[llink] (t4.west) to (d1.south east) (t4.west) to (d2.south east) (t4.west) to (d3.south east) (t4.west) to (d4.south east) (t4.west) to (d5.south east) (t4.west) to (d6.south east);
\draw[llink] (d1.south west) to (d1x.south east) (d2.south west) to (d2x.south east) (d3.south west) to (d3x.south east) (d4.south west) to (d4x.south east) (d5.south west) to (d5x.south east);
\draw[llink] (d6.south west) to (d6a.south east) (d6.south west) to (d6b.south east) (d6.south west) to (d6c.south east) (d6.south west) to (d6d.south east);
\draw[llink] (d6c.south west) to (d6c1.south east) (d6c.south west) to (d6c2.south east) (d6c.south west) to (d6c3.south east) (d6c.south west) to (d6c4.south east) (d6c.south west) to (d6c5.south east)
             (d6c.south west) to (d6c6.south east) (d6c.south west) to (d6c7.south east) (d6c.south west) to (d6c8.south east) (d6c.south west) to (d6c9.south east);

\end{tikzpicture}
\end{document}
